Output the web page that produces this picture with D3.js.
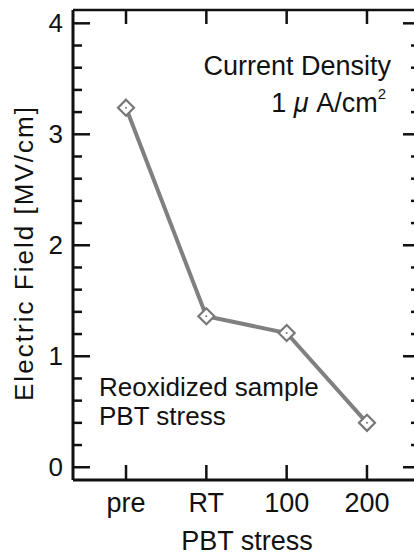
<!DOCTYPE html>
<html>
<head>
<meta charset="utf-8">
<script src="https://cdn.jsdelivr.net/npm/d3@7.9.0/dist/d3.min.js"></script>
<style>
  body { margin: 0; background: #fff; }
  svg text { font-family: 'Liberation Sans', Arial, sans-serif; fill: #111; }
</style>
</head>
<body>
<svg id="chart" width="414" height="557"></svg>
<script>
const stages = ['pre', 'RT', '100', '200'];
const field = [3.24, 1.36, 1.21, 0.40];
const yMajor = [0, 1, 2, 3, 4];
const yMinor = d3.range(-0.0, 4.01, 0.2);

const svg = d3.select('#chart');
const fs = 26;

// plot frame (right side runs just past the window edge)
const x = d3.scaleLinear().domain([-0.66, 3.66]).range([73, 420]);
const y = d3.scaleLinear().domain([-0.115, 4.12]).range([480, 10]);

const frame = svg.append('g').attr('stroke', '#111').attr('fill', 'none');
frame.append('line').attr('x1', 73).attr('x2', 420).attr('y1', 480).attr('y2', 480).attr('stroke-width', 3);
frame.append('line').attr('x1', 73).attr('x2', 73).attr('y1', 10).attr('y2', 480).attr('stroke-width', 3);
frame.append('line').attr('x1', 73).attr('x2', 420).attr('y1', 10).attr('y2', 10).attr('stroke-width', 2.5);
frame.append('line').attr('x1', 420).attr('x2', 420).attr('y1', 10).attr('y2', 480).attr('stroke-width', 2.5);

// y ticks on both sides
yMinor.forEach(v => {
  const major = yMajor.some(m => Math.abs(m - v) < 1e-6);
  const len = major ? 17 : 9;
  frame.append('line').attr('x1', 73).attr('x2', 73 + len)
    .attr('y1', y(v)).attr('y2', y(v)).attr('stroke-width', 2.5);
  frame.append('line').attr('x1', 420 - len).attr('x2', 420)
    .attr('y1', y(v)).attr('y2', y(v)).attr('stroke-width', 2.5);
});

// x ticks top and bottom
stages.forEach((s, i) => {
  frame.append('line').attr('x1', x(i)).attr('x2', x(i))
    .attr('y1', 480).attr('y2', 465).attr('stroke-width', 2.5);
  frame.append('line').attr('x1', x(i)).attr('x2', x(i))
    .attr('y1', 10).attr('y2', 24).attr('stroke-width', 2.5);
});

// tick labels
svg.append('g').selectAll('text').data(yMajor).join('text')
  .attr('x', 63).attr('y', d => y(d) + 9)
  .attr('text-anchor', 'end').attr('font-size', fs)
  .text(d => d);

svg.append('g').selectAll('text').data(stages).join('text')
  .attr('x', (d, i) => x(i)).attr('y', 512)
  .attr('text-anchor', 'middle').attr('font-size', 27)
  .text(d => d);

// axis titles
svg.append('text')
  .attr('x', 247).attr('y', 550)
  .attr('text-anchor', 'middle').attr('font-size', 27)
  .text('PBT stress');

svg.append('text')
  .attr('transform', 'translate(33,254) rotate(-90)')
  .attr('text-anchor', 'middle').attr('font-size', fs)
  .attr('textLength', 294).attr('lengthAdjust', 'spacing')
  .text('Electric Field [MV/cm]');

// annotations
svg.append('text')
  .attr('x', 391).attr('y', 75)
  .attr('text-anchor', 'end').attr('font-size', 27)
  .text('Current Density');

const unit = svg.append('text')
  .attr('x', 386).attr('y', 112)
  .attr('text-anchor', 'end').attr('font-size', 27);
unit.append('tspan').text('1 ');
unit.append('tspan').attr('font-style', 'italic').text('μ');
unit.append('tspan').text(' A/cm');
unit.append('tspan').attr('font-size', 15).attr('dy', -13).text('2');

svg.append('text')
  .attr('x', 99).attr('y', 396).attr('font-size', fs)
  .text('Reoxidized sample');
svg.append('text')
  .attr('x', 99).attr('y', 425).attr('font-size', fs)
  .text('PBT stress');

// series
const pts = stages.map((s, i) => ({ s, i, v: field[i] }));

svg.append('path')
  .datum(pts)
  .attr('fill', 'none')
  .attr('stroke', '#808080')
  .attr('stroke-width', 4)
  .attr('d', d3.line().x(d => x(d.i)).y(d => y(d.v)));

const mk = svg.append('g').selectAll('g').data(pts).join('g')
  .attr('transform', d => `translate(${x(d.i)},${y(d.v)})`);
mk.append('path')
  .attr('d', 'M0,-8L8,0L0,8L-8,0Z')
  .attr('fill', '#fff')
  .attr('stroke', '#777')
  .attr('stroke-width', 2.2);
mk.append('circle').attr('r', 1).attr('fill', '#777');
</script>
</body>
</html>
